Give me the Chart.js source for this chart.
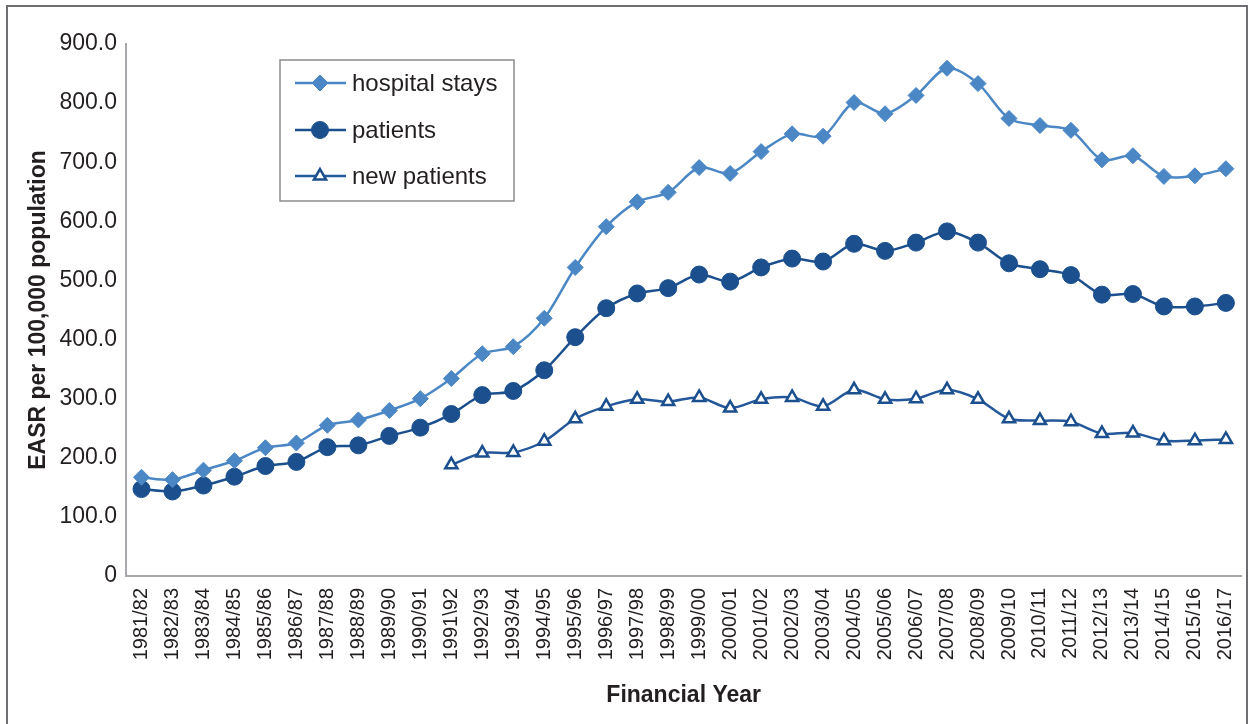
<!DOCTYPE html>
<html>
<head>
<meta charset="utf-8">
<title>EASR per 100,000 population</title>
<script src="https://cdn.jsdelivr.net/npm/chart.js@4/dist/chart.umd.min.js"></script>
<style>
  html, body { margin: 0; padding: 0; background: #fff; }
  #wrap { position: relative; width: 1254px; height: 724px; overflow: hidden; }
  #frame {
    position: absolute; left: 6px; top: 5px; width: 1242px; height: 760px;
    border: 2px solid #6d6e71; box-sizing: border-box; pointer-events: none;
  }
  canvas { position: absolute; left: 0; top: 0; }
</style>
</head>
<body>
<div id="wrap">
  <div id="frame"></div>
  <canvas id="chart" width="1254" height="724"></canvas>
</div>
<script>
// categories
const years = [
  '1981/82', '1982/83', '1983/84', '1984/85', '1985/86', '1986/87', '1987/88', '1988/89',
  '1989/90', '1990/91', '1991\\92', '1992/93', '1993/94', '1994/95', '1995/96', '1996/97',
  '1997/98', '1998/99', '1999/00', '2000/01', '2001/02', '2002/03', '2003/04', '2004/05',
  '2005/06', '2006/07', '2007/08', '2008/09', '2009/10', '2010/11', '2011/12', '2012/13',
  '2013/14', '2014/15', '2015/16', '2016/17'
];

// series
const hospitalStays = [
  167, 163, 179, 195, 217, 225, 255, 264, 280, 300, 334, 376, 388, 436, 522, 591,
  633, 649, 691, 681, 718, 748, 744, 801, 782, 813, 859, 833, 774, 762, 754, 704,
  711, 676, 677, 689
];
const patients = [
  147, 143, 153, 168, 186, 193, 218, 221, 237, 251, 274, 306, 313, 348, 404, 453,
  478, 487, 510, 498, 522, 537, 532, 562, 550, 564, 583, 564, 529, 519, 509, 476,
  477, 456, 456, 462
];
const newPatients = [
  null, null, null, null, null, null, null, null, null, null, 188, 208, 209, 228, 266, 287,
  299, 295, 302, 284, 299, 302, 287, 315, 299, 300, 315, 299, 266, 263, 261, 241,
  242, 229, 229, 231
];

// y ticks
const yTicks = [0, 100, 200, 300, 400, 500, 600, 700, 800, 900];

const seriesNames = ['hospital stays', 'patients', 'new patients'];
const lightBlue = '#4b87c5';
const darkBlue = '#1b4f8d';
const midBlue = '#24589a';
const textColor = '#231f20';
const FONT = 'Arial, "Liberation Sans", Helvetica, sans-serif';

// legend box drawn inside the plot, like the original
const legendBox = {
  id: 'legendBox',
  afterDraw(chart) {
    const ctx = chart.ctx;
    const x0 = 280, y0 = 60, x1 = 514, y1 = 201;
    ctx.save();
    ctx.fillStyle = '#fff';
    ctx.fillRect(x0, y0, x1 - x0, y1 - y0);
    ctx.strokeStyle = '#8a8c8e';
    ctx.lineWidth = 1.5;
    ctx.strokeRect(x0, y0, x1 - x0, y1 - y0);
    const rows = [83, 130, 176];
    chart.data.datasets.forEach((ds, i) => {
      const y = rows[i];
      ctx.strokeStyle = ds.borderColor;
      ctx.lineWidth = 2.5;
      ctx.beginPath();
      ctx.moveTo(295, y);
      ctx.lineTo(346, y);
      ctx.stroke();
      // marker
      ctx.fillStyle = ds.pointBackgroundColor;
      ctx.strokeStyle = ds.pointBorderColor;
      ctx.lineWidth = ds.pointBorderWidth;
      Chart.helpers.drawPoint(ctx, {
        pointStyle: ds.pointStyle,
        radius: ds.pointRadius,
        borderWidth: ds.pointBorderWidth
      }, 320, y);
      // label, clipped at the right like the source
      ctx.save();
      ctx.beginPath();
      ctx.rect(x0, y0, 497 - x0, y1 - y0);
      ctx.clip();
      ctx.fillStyle = textColor;
      ctx.font = '24px ' + FONT;
      ctx.textBaseline = 'middle';
      ctx.fillText(ds.label, 352, y + 1);
      ctx.restore();
    });
    ctx.restore();
  }
};

const ctx = document.getElementById('chart').getContext('2d');
Chart.defaults.font.family = FONT;

const chart = new Chart(ctx, {
  type: 'line',
  data: {
    labels: years,
    datasets: [
      {
        label: seriesNames[0],
        data: hospitalStays,
        borderColor: lightBlue,
        backgroundColor: lightBlue,
        pointBackgroundColor: lightBlue,
        pointBorderColor: lightBlue,
        pointStyle: 'rectRot',
        pointRadius: 8,
        pointBorderWidth: 1,
        borderWidth: 2.5,
        tension: 0.3
      },
      {
        label: seriesNames[1],
        data: patients,
        borderColor: darkBlue,
        backgroundColor: darkBlue,
        pointBackgroundColor: darkBlue,
        pointBorderColor: darkBlue,
        pointStyle: 'circle',
        pointRadius: 8.5,
        pointBorderWidth: 1,
        borderWidth: 2.5,
        tension: 0.3
      },
      {
        label: seriesNames[2],
        data: newPatients,
        borderColor: midBlue,
        backgroundColor: '#ffffff',
        pointBackgroundColor: '#ffffff',
        pointBorderColor: darkBlue,
        pointStyle: 'triangle',
        pointRadius: 7,
        pointBorderWidth: 2.5,
        borderWidth: 2.5,
        tension: 0.3
      }
    ]
  },
  options: {
    responsive: false,
    animation: false,
    layout: { padding: { top: 44, right: 8, left: 0, bottom: 0 } },
    plugins: {
      legend: { display: false },
      tooltip: { enabled: false }
    },
    scales: {
      x: {
        offset: true,
        grid: { display: false },
        border: { display: true, color: '#a7a9ac', width: 2 },
        ticks: {
          color: textColor,
          font: { size: 20 },
          maxRotation: 90,
          minRotation: 90,
          autoSkip: false,
          padding: 4
        },
        title: {
          display: true,
          text: 'Financial Year',
          color: textColor,
          font: { size: 23, weight: 'bold' },
          padding: { top: 0, bottom: 15 }
        },
        afterFit(scale) { scale.height = 148; }
      },
      y: {
        min: 0,
        max: 900,
        grid: { display: false },
        border: { display: true, color: '#a7a9ac', width: 2 },
        afterBuildTicks(scale) { scale.ticks = yTicks.map(v => ({ value: v })); },
        ticks: {
          color: textColor,
          font: { size: 23 },
          padding: 1,
          callback: v => (v === 0 ? '0' : v.toFixed(1))
        },
        title: {
          display: true,
          text: 'EASR per 100,000 population',
          color: textColor,
          font: { size: 23, weight: 'bold' },
          padding: { top: 25, bottom: 0 }
        },
        afterFit(scale) { scale.width = 126; }
      }
    }
  },
  plugins: [legendBox]
});
</script>
</body>
</html>
